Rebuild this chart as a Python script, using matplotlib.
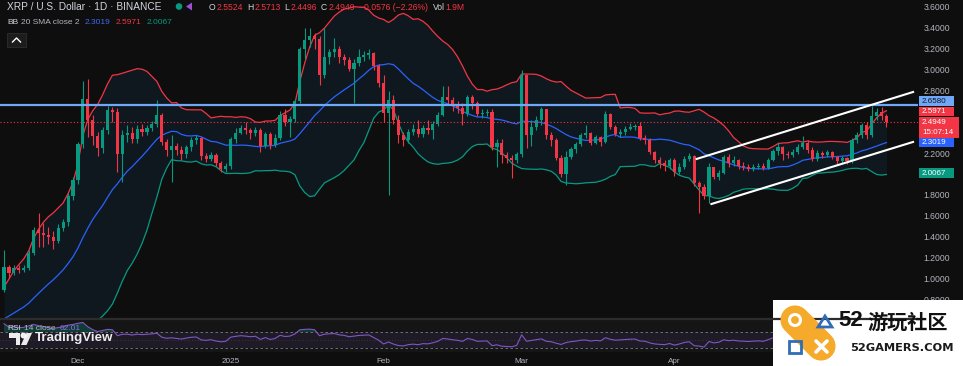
import numpy as np
import pandas as pd
import matplotlib
matplotlib.use("Agg")
from matplotlib import pyplot as plt
from matplotlib.patches import Rectangle, Circle, Polygon

plt.rcParams['font.family'] = ['Liberation Sans', 'Noto Sans CJK SC', 'DejaVu Sans']

# XRP / USD daily candles (Binance), 2024-11-16 .. 2025-05-14
start_date = "2024-11-16"
first_open = 0.89
close = [1.11, 1.05, 1.10, 1.08, 1.10, 1.24, 1.46, 1.43, 1.41, 1.39,
         1.36, 1.48, 1.54, 1.79, 1.94, 2.29, 2.72, 2.52, 2.36, 2.25,
         2.42, 2.61, 2.59, 2.19, 2.37, 2.39, 2.33, 2.43, 2.40, 2.44,
         2.48, 2.56, 2.31, 2.23, 2.27, 2.23, 2.19, 2.26, 2.32, 2.34,
         2.17, 2.14, 2.18, 2.10, 2.05, 2.08, 2.33, 2.39, 2.44, 2.42,
         2.39, 2.42, 2.27, 2.38, 2.28, 2.34, 2.56, 2.50, 2.53, 2.70,
         3.20, 3.28, 3.32, 3.29, 2.95, 3.12, 3.17, 3.20, 3.12, 3.09,
         3.01, 3.06, 3.12, 3.14, 3.16, 3.03, 2.87, 2.58, 2.71, 2.52,
         2.37, 2.32, 2.40, 2.43, 2.38, 2.44, 2.42, 2.48, 2.56, 2.74,
         2.71, 2.66, 2.63, 2.57, 2.74, 2.68, 2.57, 2.58, 2.59, 2.26,
         2.30, 2.18, 2.15, 2.13, 2.19, 2.95, 2.37, 2.45, 2.52, 2.62,
         2.37, 2.32, 2.15, 2.00, 2.16, 2.24, 2.29, 2.37, 2.39, 2.30,
         2.35, 2.31, 2.57, 2.45, 2.38, 2.40, 2.43, 2.45, 2.46, 2.34,
         2.32, 2.21, 2.13, 2.10, 2.08, 2.13, 2.02, 2.07, 2.14, 2.17,
         1.91, 1.87, 1.79, 2.07, 1.97, 2.01, 2.16, 2.10, 2.13, 2.08,
         2.07, 2.05, 2.07, 2.08, 2.06, 2.13, 2.22, 2.26, 2.19, 2.18,
         2.21, 2.26, 2.30, 2.23, 2.14, 2.20, 2.18, 2.21, 2.16, 2.12,
         2.15, 2.12, 2.32, 2.37, 2.47, 2.37, 2.55, 2.59, 2.5524, 2.4949]
high = [1.27, 1.13, 1.13, 1.13, 1.13, 1.27, 1.49, 1.62, 1.53, 1.49,
        1.45, 1.52, 1.57, 1.82, 1.97, 2.31, 2.89, 2.91, 2.56, 2.40,
        2.45, 2.65, 2.64, 2.63, 2.42, 2.47, 2.45, 2.47, 2.48, 2.47,
        2.51, 2.71, 2.58, 2.33, 2.37, 2.30, 2.27, 2.28, 2.35, 2.37,
        2.35, 2.20, 2.21, 2.20, 2.12, 2.10, 2.35, 2.44, 2.47, 2.50,
        2.44, 2.45, 2.44, 2.40, 2.40, 2.38, 2.60, 2.62, 2.55, 2.72,
        3.22, 3.40, 3.40, 3.35, 3.32, 3.40, 3.20, 3.30, 3.23, 3.15,
        3.12, 3.10, 3.20, 3.18, 3.20, 3.17, 3.05, 2.95, 2.79, 2.76,
        2.56, 2.40, 2.43, 2.48, 2.52, 2.47, 2.52, 2.51, 2.59, 2.84,
        2.84, 2.74, 2.70, 2.68, 2.76, 2.76, 2.70, 2.62, 2.62, 2.62,
        2.33, 2.33, 2.21, 2.18, 2.21, 3.00, 2.95, 2.52, 2.55, 2.64,
        2.62, 2.40, 2.34, 2.18, 2.22, 2.26, 2.31, 2.39, 2.47, 2.40,
        2.37, 2.36, 2.60, 2.58, 2.47, 2.43, 2.46, 2.49, 2.48, 2.50,
        2.37, 2.34, 2.22, 2.16, 2.13, 2.15, 2.15, 2.10, 2.17, 2.20,
        2.18, 1.93, 1.90, 2.10, 2.07, 2.04, 2.18, 2.19, 2.17, 2.14,
        2.11, 2.09, 2.09, 2.10, 2.10, 2.15, 2.24, 2.31, 2.27, 2.22,
        2.24, 2.29, 2.36, 2.32, 2.26, 2.23, 2.22, 2.23, 2.22, 2.17,
        2.17, 2.16, 2.34, 2.40, 2.49, 2.50, 2.65, 2.63, 2.64, 2.5713]
low = [0.87, 1.00, 1.03, 1.05, 1.06, 1.08, 1.22, 1.30, 1.30, 1.33,
       1.28, 1.34, 1.45, 1.50, 1.75, 1.90, 2.25, 2.35, 2.28, 2.17,
       2.20, 2.38, 2.50, 2.02, 1.92, 2.31, 2.30, 2.30, 2.36, 2.37,
       2.41, 2.45, 2.28, 2.17, 1.92, 2.18, 2.13, 2.15, 2.22, 2.29,
       2.13, 2.11, 2.12, 2.08, 2.02, 2.02, 2.05, 2.30, 2.38, 2.38,
       2.33, 2.36, 2.21, 2.25, 2.24, 2.26, 2.32, 2.46, 2.35, 2.50,
       2.68, 3.10, 3.22, 3.20, 2.85, 2.92, 3.05, 3.12, 3.06, 3.04,
       2.99, 2.68, 3.03, 3.08, 3.10, 3.00, 2.83, 2.50, 1.80, 2.48,
       2.30, 2.27, 2.30, 2.37, 2.35, 2.35, 2.38, 2.33, 2.46, 2.55,
       2.66, 2.60, 2.58, 2.47, 2.55, 2.62, 2.55, 2.54, 2.55, 2.23,
       2.07, 2.10, 2.10, 1.96, 2.10, 2.16, 2.25, 2.27, 2.42, 2.47,
       2.33, 2.27, 2.13, 1.97, 1.89, 2.14, 2.20, 2.27, 2.34, 2.28,
       2.29, 2.27, 2.30, 2.43, 2.36, 2.35, 2.37, 2.42, 2.42, 2.32,
       2.29, 2.19, 2.10, 2.06, 2.03, 2.05, 1.98, 2.00, 2.05, 2.12,
       1.88, 1.62, 1.76, 1.72, 1.95, 1.94, 2.00, 2.07, 2.08, 2.05,
       2.04, 2.03, 2.03, 2.05, 2.04, 2.05, 2.12, 2.18, 2.13, 2.15,
       2.16, 2.19, 2.24, 2.20, 2.12, 2.12, 2.15, 2.16, 2.14, 2.09,
       2.10, 2.09, 2.10, 2.30, 2.34, 2.33, 2.35, 2.52, 2.52, 2.4496]
# closes before the first visible candle (2024-10-28 .. 2024-11-15), feed BB / RSI only
warmup_close = [0.52, 0.52, 0.52, 0.50, 0.51, 0.51, 0.50, 0.50, 0.51, 0.54,
                0.55, 0.56, 0.59, 0.63, 0.62, 0.73, 0.71, 0.68, 0.89]

month_ticks = ["2024-12-01", "2025-01-01", "2025-02-01", "2025-03-01", "2025-04-01"]
month_labels = ["Dec", "2025", "Feb", "Mar", "Apr"]
# 2.0, 2.4 and 2.6 sit under the value boxes on the price scale
price_ticks = [0.8, 1.0, 1.2, 1.4, 1.6, 1.8, 2.2, 2.8, 3.0, 3.2, 3.4, 3.6]

level_price = 2.658
# drawn channel: (day index, price) end points
channel_upper = [(140.5, 2.143), (184.4, 2.785)]
channel_lower = [(143.5, 1.711), (184.4, 2.306)]

bb_values = ["2.3019", "2.5971", "2.0067"]
rsi_value = "62.01"
countdown = "15:07:14"
change_text = "\u22120.0576 (\u22122.26%)"
volume_text = "1.9M"

BG = "#0e0e0e"
UP = "#089981"
DOWN = "#F23645"
BLUE = "#2962FF"
TXT = "#D1D4DC"
AX_TXT = "#B2B5BE"

close = np.array(close)
high = np.array(high)
low = np.array(low)
open_ = np.concatenate([[first_open], close[:-1]])
n = len(close)
x = np.arange(n)
dates = pd.date_range(start_date, periods=n, freq="D")

allc = pd.Series(warmup_close + list(close))
basis = allc.rolling(20).mean().to_numpy()[-n:]
dev = allc.rolling(20).std(ddof=0).to_numpy()[-n:]
upper = basis + 2 * dev
lower = basis - 2 * dev
delta = allc.diff()
gain = delta.clip(lower=0).ewm(alpha=1 / 14, adjust=False).mean()
loss = (-delta.clip(upper=0)).ewm(alpha=1 / 14, adjust=False).mean()
rsi = (100 - 100 / (1 + gain / loss)).to_numpy()[-n:]

W, H = 963, 366
PANE_R = 918
X0, X1 = -0.81, 185.4
Y0, Y1 = 0.618, 3.667

fig = plt.figure(figsize=(W / 100, H / 100), dpi=100, facecolor=BG)
ax = fig.add_axes([0, (H - 318) / H, PANE_R / W, 318 / H], facecolor=BG)
rax = fig.add_axes([0, (H - 352) / H, PANE_R / W, 33 / H], facecolor="#151515")
ov = fig.add_axes([0, 0, 1, 1], zorder=10)
ov.set_xlim(0, W)
ov.set_ylim(H, 0)
ov.axis("off")


def py(p):
    return (Y1 - p) / (Y1 - Y0) * 318


# --- main pane ---
ax.fill_between(x, upper, lower, color="#2196F3", alpha=0.08, linewidth=0, zorder=1)
ax.plot(x, basis, color=BLUE, lw=0.9, zorder=2)
ax.plot(x, upper, color=DOWN, lw=0.9, zorder=2)
ax.plot(x, lower, color=UP, lw=0.9, zorder=2)

colors = np.where(close >= open_, UP, DOWN)
ax.vlines(x, low, high, colors=colors, linewidth=0.8, zorder=3)
ax.bar(x, np.maximum(np.abs(close - open_), 0.006), bottom=np.minimum(open_, close),
       width=0.64, color=colors, linewidth=0, zorder=3)

ax.axhline(level_price, color="#6FA8F7", lw=1.6, zorder=4)
ax.axhline(close[-1], color=DOWN, lw=0.8, ls=(0, (1, 2)), zorder=4)
for line in (channel_upper, channel_lower):
    ax.plot([p[0] for p in line], [p[1] for p in line], color="white", lw=1.5, zorder=5)

ax.set_xlim(X0, X1)
ax.set_ylim(Y0, Y1)
ax.yaxis.tick_right()
ax.set_yticks(price_ticks)
ax.set_yticklabels([f"{t:.4f}" for t in price_ticks])
ax.tick_params(axis="y", length=0, pad=4, labelsize=6.2, labelcolor=AX_TXT)
ax.set_xticks([])
for s in ax.spines.values():
    s.set_visible(False)

# --- RSI pane ---
rax.axhspan(30, 70, color="#7E57C2", alpha=0.1, lw=0)
rax.fill_between(x, rsi, 70, where=rsi > 70, color=UP, alpha=0.3, interpolate=True, lw=0)
rax.fill_between(x, rsi, 30, where=rsi < 30, color=DOWN, alpha=0.3, interpolate=True, lw=0)
rax.axhline(70, color="#787B86", lw=0.6, ls=(0, (3, 3)))
rax.axhline(30, color="#787B86", lw=0.6, ls=(0, (3, 3)))
rax.axhline(50, color="#787B86", lw=0.5, ls=(0, (1, 3)), alpha=0.5)
rax.plot(x, rsi, color="#7E57C2", lw=0.8)
rax.set_xlim(X0, X1)
rax.set_ylim(20, 102.5)
rax.set_yticks([])
tick_pos = [dates.get_loc(pd.Timestamp(d)) for d in month_ticks]
rax.set_xticks(tick_pos)
rax.set_xticklabels(month_labels)
rax.tick_params(axis="x", length=0, pad=4.5, labelsize=5.9, labelcolor=AX_TXT)
for s in rax.spines.values():
    s.set_visible(False)
ov.plot([0, PANE_R], [318.8, 318.8], color="#2c2c2c", lw=1.6)


# --- header ---
def chain(parts, x0, y0, size):
    prev = None
    for s, c, gap in parts:
        if prev is None:
            prev = ov.text(x0, y0, s, color=c, fontsize=size, va="center", ha="left")
        else:
            prev = ov.annotate(s, xy=(1, 0.5), xycoords=prev, xytext=(gap, 0),
                               textcoords="offset pixels", color=c, fontsize=size,
                               va="center", ha="left")


chain([("XRP / U.S. Dollar \u00b7 1D \u00b7 BINANCE", TXT, 0)], 7, 7, 7.3)
ov.add_patch(Circle((179, 6.5), 2.6, color=UP))
ov.add_patch(Polygon([(186, 6.5), (192, 2.5), (192, 10.5)], closed=True, fc="#9c4fd8", ec="none"))
chain([("O", TXT, 0), (f"{open_[-1]:.4f}", DOWN, 1),
       ("H", TXT, 4), (f"{high[-1]:.4f}", DOWN, 1),
       ("L", TXT, 4), (f"{low[-1]:.4f}", DOWN, 1),
       ("C", TXT, 4), (f"{close[-1]:.4f}", DOWN, 1),
       (change_text, DOWN, 4), ("Vol", TXT, 5), (volume_text, DOWN, 1)], 209, 7, 6.2)
chain([("BB", TXT, 0), ("20 SMA close 2", AX_TXT, 3),
       (bb_values[0], "#3d6cf5", 5), (bb_values[1], DOWN, 5), (bb_values[2], UP, 5)], 7, 23, 6.0)
ov.add_patch(Rectangle((7, 33), 19, 14, fc="#1c1c1c", ec="#2e2e2e", lw=0.6))
ov.plot([12.5, 16.5, 20.5], [42, 38, 42], color="white", lw=1.0)


# --- price scale labels ---
def price_box(yc, lines, fc, tc, h=9.5, w=35):
    ov.add_patch(Rectangle((919, yc - h / 2), w, h, fc=fc, ec="none"))
    k = len(lines)
    for i, s in enumerate(lines):
        ov.text(919 + 3, yc - h / 2 + h * (i + 0.5) / k, s, color=tc, fontsize=5.8,
                va="center", ha="left")


price_box(py(level_price) - 4, [f"{level_price:.4f}"], "#6FA8F7", "#131722")
price_box(py(float(bb_values[1])), [bb_values[1]], DOWN, "white")
price_box(py(close[-1]) + 5.2, [f"{close[-1]:.4f}", countdown], DOWN, "white", h=21, w=40)
price_box(py(float(bb_values[0])), [bb_values[0]], BLUE, "white")
price_box(py(float(bb_values[2])), [bb_values[2]], UP, "white")

# --- RSI title and TradingView logo ---
chain([("RSI", TXT, 0), ("14 close", AX_TXT, 3), (rsi_value, "#8b6fe0", 4)], 7, 328, 6.0)
ov.add_patch(Polygon([(9, 333), (20, 333), (20, 345), (15.5, 345), (15.5, 337.5), (9, 337.5)],
                     closed=True, fc="white", ec="none", alpha=0.92))
ov.add_patch(Circle((23.5, 335.5), 2.3, color="white", alpha=0.92))
ov.add_patch(Polygon([(26.5, 333), (32, 333), (26.5, 345), (21, 345)],
                     closed=True, fc="white", ec="none", alpha=0.92))
ov.text(35, 338.5, "TradingView", color="white", fontsize=9.6, fontweight="bold",
        va="center", ha="left", alpha=0.92)

# --- site watermark ---
ORANGE = "#F6AA2C"
WM_BLUE = "#2F6DB5"
ov.add_patch(Rectangle((773, 300), W - 773, H - 300, fc="white", ec="none", zorder=1))
ov.plot([795, 821], [320, 346], color=ORANGE, lw=21, solid_capstyle="round", zorder=2)
ov.add_patch(Circle((795, 320), 5.5, fc="none", ec="white", lw=2.2, zorder=3))
ov.add_patch(Polygon([(818, 327), (832, 327), (825, 316)], closed=True, fc="none", ec=WM_BLUE,
                     lw=2.0, zorder=3))
ov.add_patch(Rectangle((789, 341), 11.5, 11.5, fc="none", ec=WM_BLUE, lw=2.0, zorder=3))
ov.plot([816, 827], [341, 352], color="white", lw=2.6, solid_capstyle="round", zorder=3)
ov.plot([816, 827], [352, 341], color="white", lw=2.6, solid_capstyle="round", zorder=3)
ov.text(838, 320, "52", color="#111111", fontsize=16, fontweight="bold", va="center", ha="left",
        zorder=3)
ov.text(867, 322, "游玩社区", color="#111111", fontsize=14.5, fontweight="bold", va="center",
        ha="left", family=["Noto Sans CJK SC"], zorder=3)
ov.text(850, 348, "52GAMERS.COM", color="#1a1a1a", fontsize=8.2, fontweight="bold", va="center",
        ha="left", family=["DejaVu Sans"], zorder=3)

fig.savefig("out.png", dpi=100, facecolor=BG)
